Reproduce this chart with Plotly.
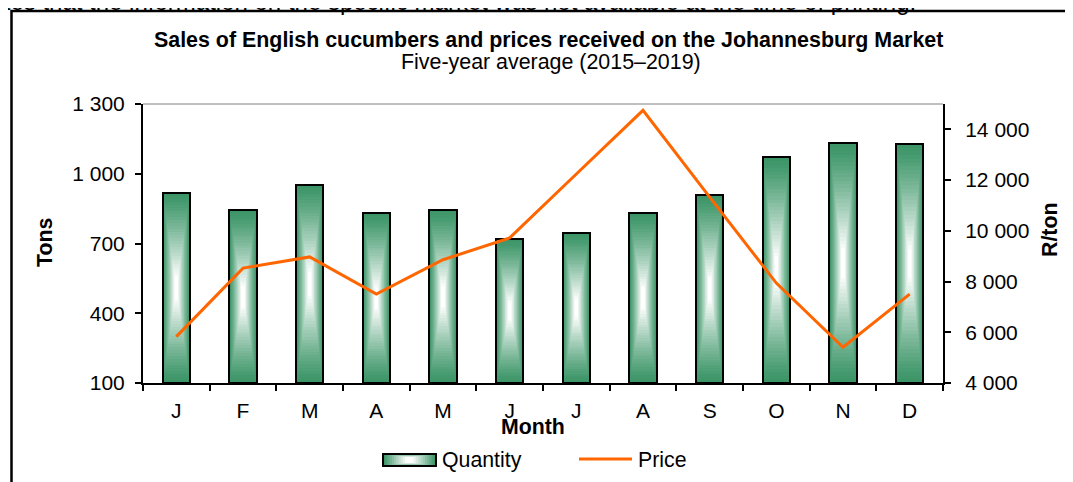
import plotly.graph_objects as go

# data
months = ["J", "F", "M", "A", "M", "J", "J", "A", "S", "O", "N", "D"]
quantity = [916, 842, 952, 830, 845, 720, 744, 831, 907, 1070, 1131, 1128]
price = [5830, 8530, 8970, 7505, 8860, 9720, 12240, 14750, 11330, 7940, 5410, 7505]

left_ticks = [100, 400, 700, 1000, 1300]
right_ticks = [4000, 6000, 8000, 10000, 12000, 14000]

FONT = "Arial, 'Liberation Sans', sans-serif"
GREEN = (59, 149, 103)
ORANGE = "#ff6600"

# window size and page offset (body margin)
WIN_W, WIN_H, OFF = 1073, 482, 8
# plot area in window pixels
L, R, T, B = 143, 943, 104, 383


def px2x(px):
    return (px - L) / (R - L)


def px2y(py):
    return (B - py) / (B - T)


def mix(t):
    r, g, b = [int(round(c + (255 - c) * t)) for c in GREEN]
    return "rgb({},{},{})".format(r, g, b)


xs = list(range(len(months)))
bar_w = 0.41
fig = go.Figure()

# gradient bars: concentric layers, outer green to white centre
n_layers = 32
for k in range(n_layers):
    t = k / n_layers
    s = min(1.0, (t / 0.88)) ** 1.2
    heights = [(v - 100) * (1 - t) for v in quantity]
    bases = [100 + (v - 100) * t / 2 for v in quantity]
    fig.add_trace(go.Bar(
        x=xs, y=heights, base=bases, width=bar_w * (1 - t),
        marker=dict(color=mix(s), line=dict(width=0)),
        showlegend=False, hoverinfo="skip"))

# outline on top
fig.add_trace(go.Bar(
    x=xs, y=[v - 100 for v in quantity], base=[100] * len(quantity), width=bar_w,
    marker=dict(color="rgba(0,0,0,0)", line=dict(color="black", width=2)),
    name="Quantity", showlegend=False))

fig.add_trace(go.Scatter(
    x=xs, y=price, yaxis="y2", mode="lines",
    line=dict(color=ORANGE, width=3), name="Price", showlegend=False))

shapes = []
annotations = []

# outer frame (runs off the right and bottom edges)
shapes.append(dict(type="rect", xref="paper", yref="paper",
                   x0=px2x(11.5), x1=px2x(WIN_W + 30), y0=px2y(11), y1=px2y(WIN_H + 30),
                   line=dict(color="black", width=2.5), layer="above"))
# thin top border of plot area
shapes.append(dict(type="line", xref="paper", yref="paper", x0=0, x1=1, y0=1, y1=1,
                   line=dict(color="#808080", width=1)))

# legend: Quantity swatch
sx0, sx1, sy0, sy1 = 383, 436, 454, 466
n_sw = 12
for k in range(n_sw):
    t = k / n_sw
    s = min(1.0, t / 0.85)
    dx = (sx1 - sx0) / 2 * t
    dy = (sy1 - sy0) / 2 * t * 0.6
    shapes.append(dict(type="rect", xref="paper", yref="paper",
                       x0=px2x(sx0 + dx), x1=px2x(sx1 - dx),
                       y0=px2y(sy0 + dy), y1=px2y(sy1 - dy),
                       fillcolor=mix(s), line=dict(width=0)))
shapes.append(dict(type="rect", xref="paper", yref="paper",
                   x0=px2x(sx0), x1=px2x(sx1), y0=px2y(sy0), y1=px2y(sy1),
                   line=dict(color="black", width=2)))
# legend: Price line
shapes.append(dict(type="line", xref="paper", yref="paper",
                   x0=px2x(579), x1=px2x(632), y0=px2y(459), y1=px2y(459),
                   line=dict(color=ORANGE, width=3)))


def note(text, x, y, size=21.3, bold=False, xanchor="center", yanchor="middle", angle=0):
    if bold:
        text = "<b>" + text + "</b>"
    annotations.append(dict(text=text, xref="paper", yref="paper",
                            x=px2x(x), y=px2y(y), xanchor=xanchor, yanchor=yanchor,
                            textangle=angle, showarrow=False,
                            font=dict(family=FONT, size=size, color="black")))


note("Quantity", 440, 460, xanchor="left")
note("Price", 636, 460, xanchor="left")
note("Sales of English cucumbers and prices received on the Johannesburg Market",
     548, 40, size=21.4, bold=True)
note("Five-year average (2015–2019)", 551, 62, size=21.4)
note("Month", 533, 427, bold=True)
note("Tons", 45, 243, bold=True, angle=-90)
note("R/ton", 1050, 230, bold=True, angle=-90)
note("indicates that the information on the specific market was not available at the time of printing.",
     918, 17.5, size=24, xanchor="right", yanchor="bottom")

fig.update_layout(
    width=WIN_W - OFF, height=WIN_H - OFF,
    margin=dict(l=L - OFF, r=WIN_W - R, t=T - OFF, b=WIN_H - B, pad=0),
    paper_bgcolor="white", plot_bgcolor="white",
    barmode="overlay", bargap=0,
    separators=". ",
    font=dict(family=FONT, size=21, color="black"),
    xaxis=dict(
        range=[-0.5, 11.5], tickvals=xs, ticktext=months, ticks="",
        showline=True, linecolor="black", linewidth=2, showgrid=False, zeroline=False,
        ticklabelstandoff=8,
        minor=dict(tickvals=[i - 0.5 for i in range(13)], ticks="outside",
                   ticklen=6, tickwidth=2, tickcolor="black"),
    ),
    yaxis=dict(
        range=[100, 1300], tickvals=left_ticks, tickformat=",d",
        ticks="outside", ticklen=6, tickwidth=2, tickcolor="black",
        showline=True, linecolor="black", linewidth=2, showgrid=False, zeroline=False,
        ticklabelstandoff=6,
    ),
    yaxis2=dict(
        range=[4000, 15000], tickvals=right_ticks, tickformat=",d", overlaying="y",
        side="right", anchor="x",
        ticks="outside", ticklen=6, tickwidth=2, tickcolor="black",
        showline=True, linecolor="black", linewidth=2, showgrid=False, zeroline=False,
        ticklabelstandoff=10,
    ),
    shapes=shapes, annotations=annotations,
)

fig.write_html("out.html")
